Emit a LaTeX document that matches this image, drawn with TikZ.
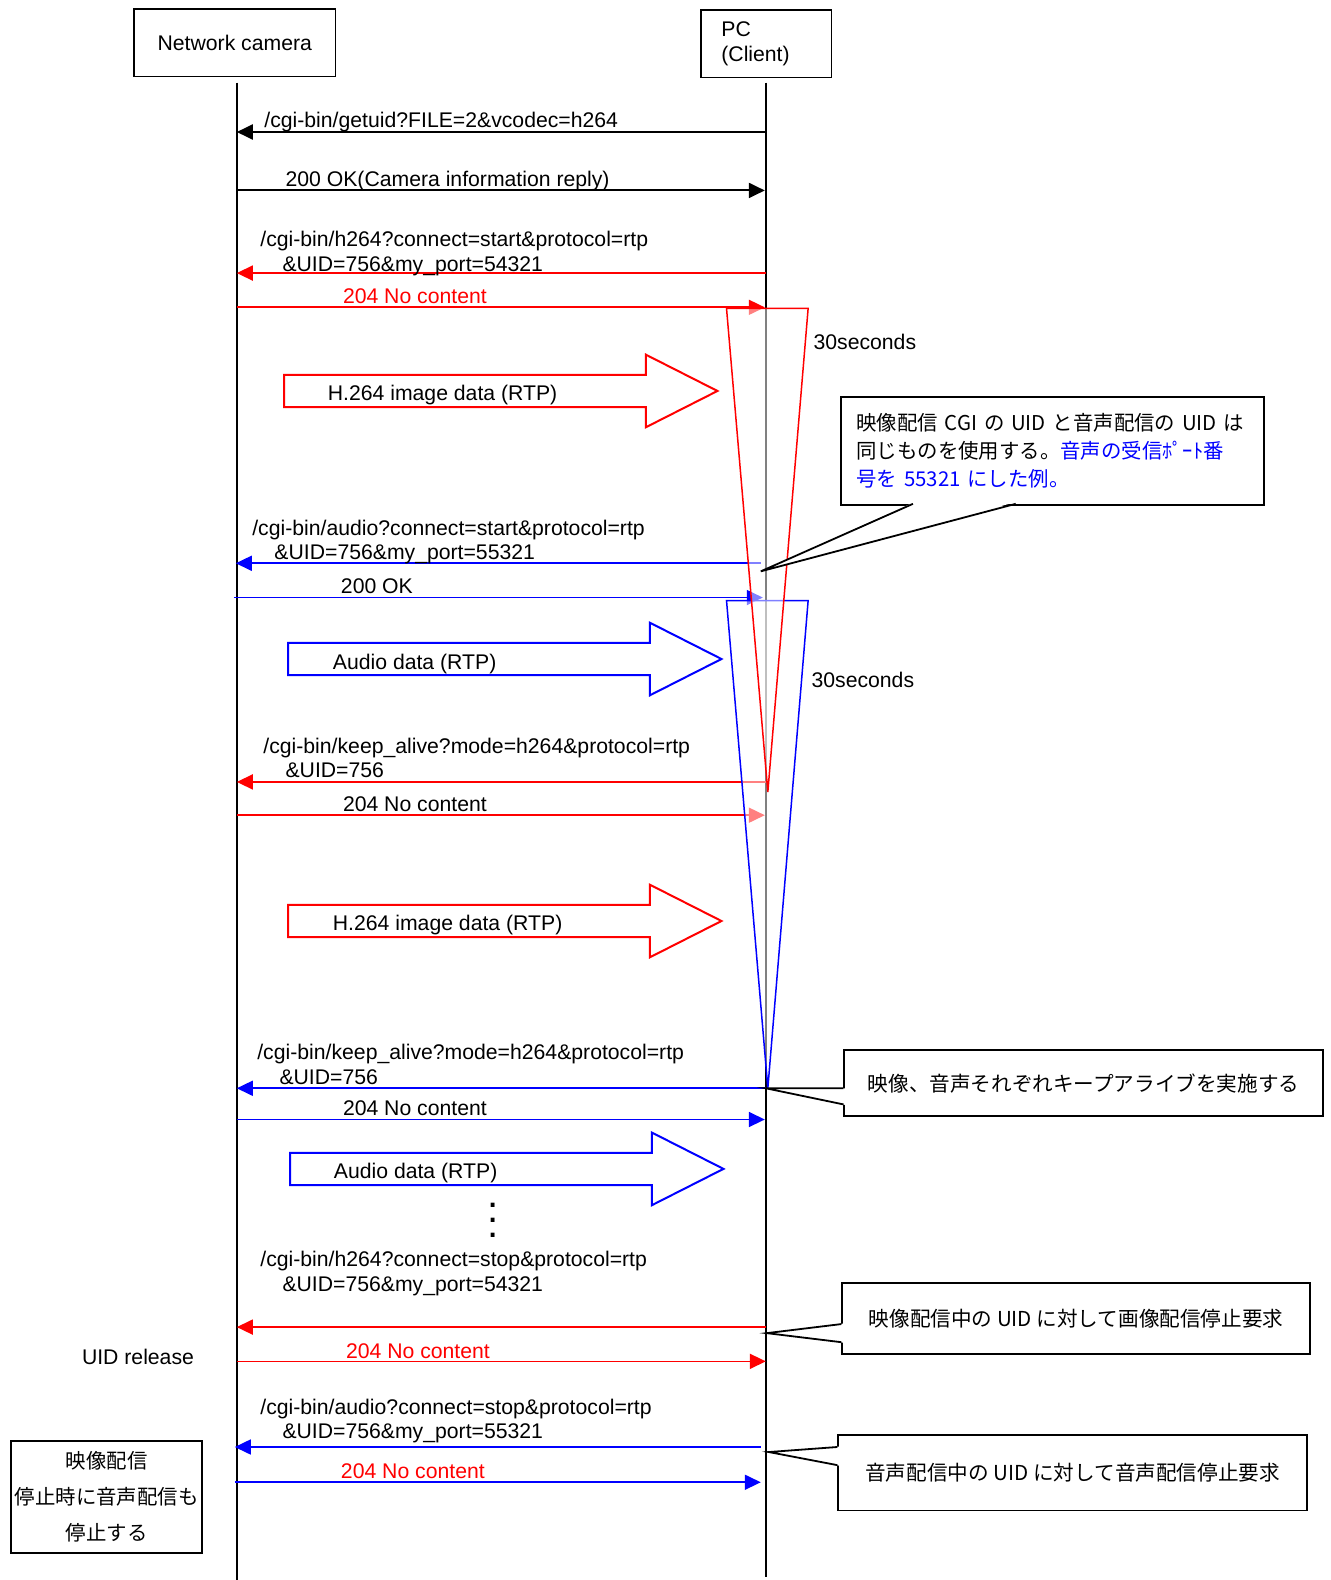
\documentclass[tikz,border=0pt]{standalone}
\usepackage{fontspec}
\setmainfont{Liberation Sans}
\newfontfamily\jpfont{Noto Sans CJK JP}
\usetikzlibrary{arrows.meta}
\begin{document}
\begin{tikzpicture}[x=0.50379pt,y=-0.50379pt,
  font=\fontsize{10.6pt}{12.1pt}\selectfont,
  box/.style={draw, line width=0.9pt, inner sep=0pt},
  lbl/.style={anchor=base west, inner sep=0pt},
  jp/.style={font=\jpfont\fontsize{10.2pt}{13.86pt}\selectfont},
  life/.style={line width=0.85pt},
  tipstyle/.style={-{Triangle[length=8pt,width=7.5pt]}},
  bmsg/.style={tipstyle, line width=1pt},
  rmsg/.style={tipstyle, line width=0.85pt, red},
  umsg/.style={tipstyle, line width=0.85pt, blue},
  wedge/.style={line width=0.75pt, fill=white, fill opacity=0.5},
  block/.style={line width=1pt},
  callout/.style={line width=0.9pt},
]
\useasboundingbox (0,0) rectangle (1320,1568);

% heads
\node[box, minimum width=100.76pt, minimum height=33.75pt] (cam) at (233,42.5) {Network camera};
\node[box, anchor=north west, minimum height=33.75pt, text width=45pt, inner xsep=10.08pt, align=left] (pc) at (695,9) {PC\\(Client)};

% lifelines
\coordinate (camtop) at (235,82);
\coordinate (cambot) at (235,1568);
\coordinate (pctop) at (760,82);
\coordinate (pcbot) at (760,1565);
\draw[life] (camtop) -- (cambot);
\draw[life] (pctop) -- (pcbot);

% message end points
\coordinate (pca) at (760,131);  \coordinate (cama) at (235,131);
\coordinate (camb) at (235,189); \coordinate (pcb) at (759,189);
\coordinate (pcc) at (760,271);  \coordinate (camc) at (235,271);
\coordinate (camd) at (235,305); \coordinate (pcd) at (759,305);
\coordinate (pce) at (755,559);  \coordinate (came) at (234,559);
\coordinate (camf) at (232,593); \coordinate (pcf) at (757,593);
\coordinate (pcg) at (760,776);  \coordinate (camg) at (235,776);
\coordinate (camh) at (235,809); \coordinate (pch) at (759,809);
\coordinate (pci) at (760,1080); \coordinate (cami) at (235,1080);
\coordinate (camj) at (235,1111);\coordinate (pcj) at (759,1111);
\coordinate (pck) at (760,1317); \coordinate (camk) at (235,1317);
\coordinate (caml) at (235,1351);\coordinate (pcl) at (760,1351);
\coordinate (pcm) at (755,1436); \coordinate (camm) at (233,1436);
\coordinate (camn) at (233,1471);\coordinate (pcn) at (755,1471);

% messages
\draw[bmsg] (pca) -- (cama);
\draw[bmsg] (camb) -- (pcb);
\draw[rmsg] (pcc) -- (camc);
\draw[rmsg] (camd) -- (pcd);
\draw[umsg] (pce) -- (came);
\draw[umsg] (camf) -- (pcf);
\draw[rmsg] (pcg) -- (camg);
\draw[rmsg] (camh) -- (pch);
\draw[umsg] (pci) -- (cami);
\draw[umsg] (camj) -- (pcj);
\draw[rmsg] (pck) -- (camk);
\draw[rmsg] (caml) -- (pcl);
\draw[umsg] (pcm) -- (camm);
\draw[umsg] (camn) -- (pcn);

% labels
\node[lbl] (la) at (262,127) {/cgi-bin/getuid?FILE=2\&vcodec=h264};
\node[lbl] (lb) at (283,185) {200 OK(Camera information reply)};
\node[lbl] (lc1) at (258,245) {/cgi-bin/h264?connect=start\&protocol=rtp};
\node[lbl] (lc2) at (280,269) {\&UID=756\&my\_port=54321};
\node[lbl, red] (ld) at (340,301) {204 No content};
\node[lbl] (le1) at (250,531) {/cgi-bin/audio?connect=start\&protocol=rtp};
\node[lbl] (le2) at (272,555) {\&UID=756\&my\_port=55321};
\node[lbl] (lf) at (338,589) {200 OK};
\node[lbl] (lg1) at (261,748) {/cgi-bin/keep\_alive?mode=h264\&protocol=rtp};
\node[lbl] (lg2) at (283,772) {\&UID=756};
\node[lbl] (lh) at (340,805) {204 No content};
\node[lbl] (li1) at (255,1051) {/cgi-bin/keep\_alive?mode=h264\&protocol=rtp};
\node[lbl] (li2) at (277,1076) {\&UID=756};
\node[lbl] (lj) at (340,1107) {204 No content};
\node[lbl] (lk1) at (258,1257) {/cgi-bin/h264?connect=stop\&protocol=rtp};
\node[lbl] (lk2) at (280,1282) {\&UID=756\&my\_port=54321};
\node[lbl, red] (ll) at (343,1348) {204 No content};
\node[lbl] (lm1) at (258,1404) {/cgi-bin/audio?connect=stop\&protocol=rtp};
\node[lbl] (lm2) at (280,1428) {\&UID=756\&my\_port=55321};
\node[lbl, red] (ln) at (338,1467) {204 No content};
\node[lbl] (rel) at (81,1354) {UID release};
\node[lbl] (t30a) at (807,347) {30seconds};
\node[lbl] (t30b) at (805,682) {30seconds};

% data block arrows
\draw[block, red] (282,372) -- (641,372) -- (641,352) -- (712,388) -- (641,424) -- (641,404) -- (282,404) -- cycle;
\node[lbl] (rtp1) at (325,397) {H.264 image data (RTP)};
\draw[block, blue] (286,638) -- (645,638) -- (645,618) -- (716,654) -- (645,690) -- (645,670) -- (286,670) -- cycle;
\node[lbl] (aud1) at (330,664) {Audio data (RTP)};
\draw[block, red] (286,898) -- (645,898) -- (645,878) -- (716,914) -- (645,950) -- (645,930) -- (286,930) -- cycle;
\node[lbl] (rtp2) at (330,923) {H.264 image data (RTP)};
\draw[block, blue] (288,1144) -- (647,1144) -- (647,1124) -- (718,1160) -- (647,1196) -- (647,1176) -- (288,1176) -- cycle;
\node[lbl] (aud2) at (331,1170) {Audio data (RTP)};

% continuation dots
\node[inner sep=0pt, anchor=base] (dots) at (489,1228) {\scalebox{1.9}{$\vdots$}};

% 30 second wedges
\draw[wedge, draw=blue] (721,596) -- (802,596) -- (762,1080) -- cycle;
\draw[wedge, draw=red] (721,306) -- (802,306) -- (762,786) -- cycle;

% note box
\node[box, jp, anchor=north west, minimum width=211.2pt, minimum height=53.9pt, text width=196pt, inner xsep=7.56pt, align=left] (note) at (834,393)
  {映像配信 CGI の UID と音声配信の UID は\\同じものを使用する。{\color{blue}音声の受信ﾎﾟｰﾄ番}\\{\color{blue}号を 55321 にした例。}};
\fill[white] (907,498.5) -- (755,567) -- (1007,498.5) -- cycle;
\draw[callout] (906,500) -- (755,567) -- (1008,500);

% keep alive callout
\node[box, jp, font=\jpfont\fontsize{10.3pt}{13.86pt}\selectfont, anchor=north west, minimum width=239.3pt, minimum height=33.25pt] (co2) at (837,1041) {映像、音声それぞれキープアライブを実施する};
\fill[white] (838.8,1080) -- (760,1080) -- (838.8,1096.5) -- cycle;
\draw[callout] (837,1080) -- (760,1080) -- (837,1096);

% video stop callout
\node[box, jp, font=\jpfont\fontsize{10.3pt}{13.86pt}\selectfont, anchor=north west, minimum width=233.8pt, minimum height=35.8pt] (co3) at (835,1272) {映像配信中の UID に対して画像配信停止要求};
\fill[white] (836.8,1313.5) -- (761,1323) -- (836.8,1332.5) -- cycle;
\draw[callout] (835,1314) -- (761,1323) -- (835,1332);

% audio stop callout
\node[box, jp, font=\jpfont\fontsize{10.3pt}{13.86pt}\selectfont, anchor=north west, minimum width=234.3pt, minimum height=37.8pt] (co4) at (831,1423) {音声配信中の UID に対して音声配信停止要求};
\fill[white] (832.8,1435.5) -- (763,1441) -- (832.8,1454.5) -- cycle;
\draw[callout] (831,1436) -- (763,1441) -- (831,1454);

% left note
\node[box, anchor=north west, minimum width=95.7pt, minimum height=55.9pt, align=center, font=\jpfont\fontsize{10.2pt}{17.9pt}\selectfont] (stopnote) at (10,1429) {映像配信\\停止時に音声配信も\\停止する};
\end{tikzpicture}
\end{document}
